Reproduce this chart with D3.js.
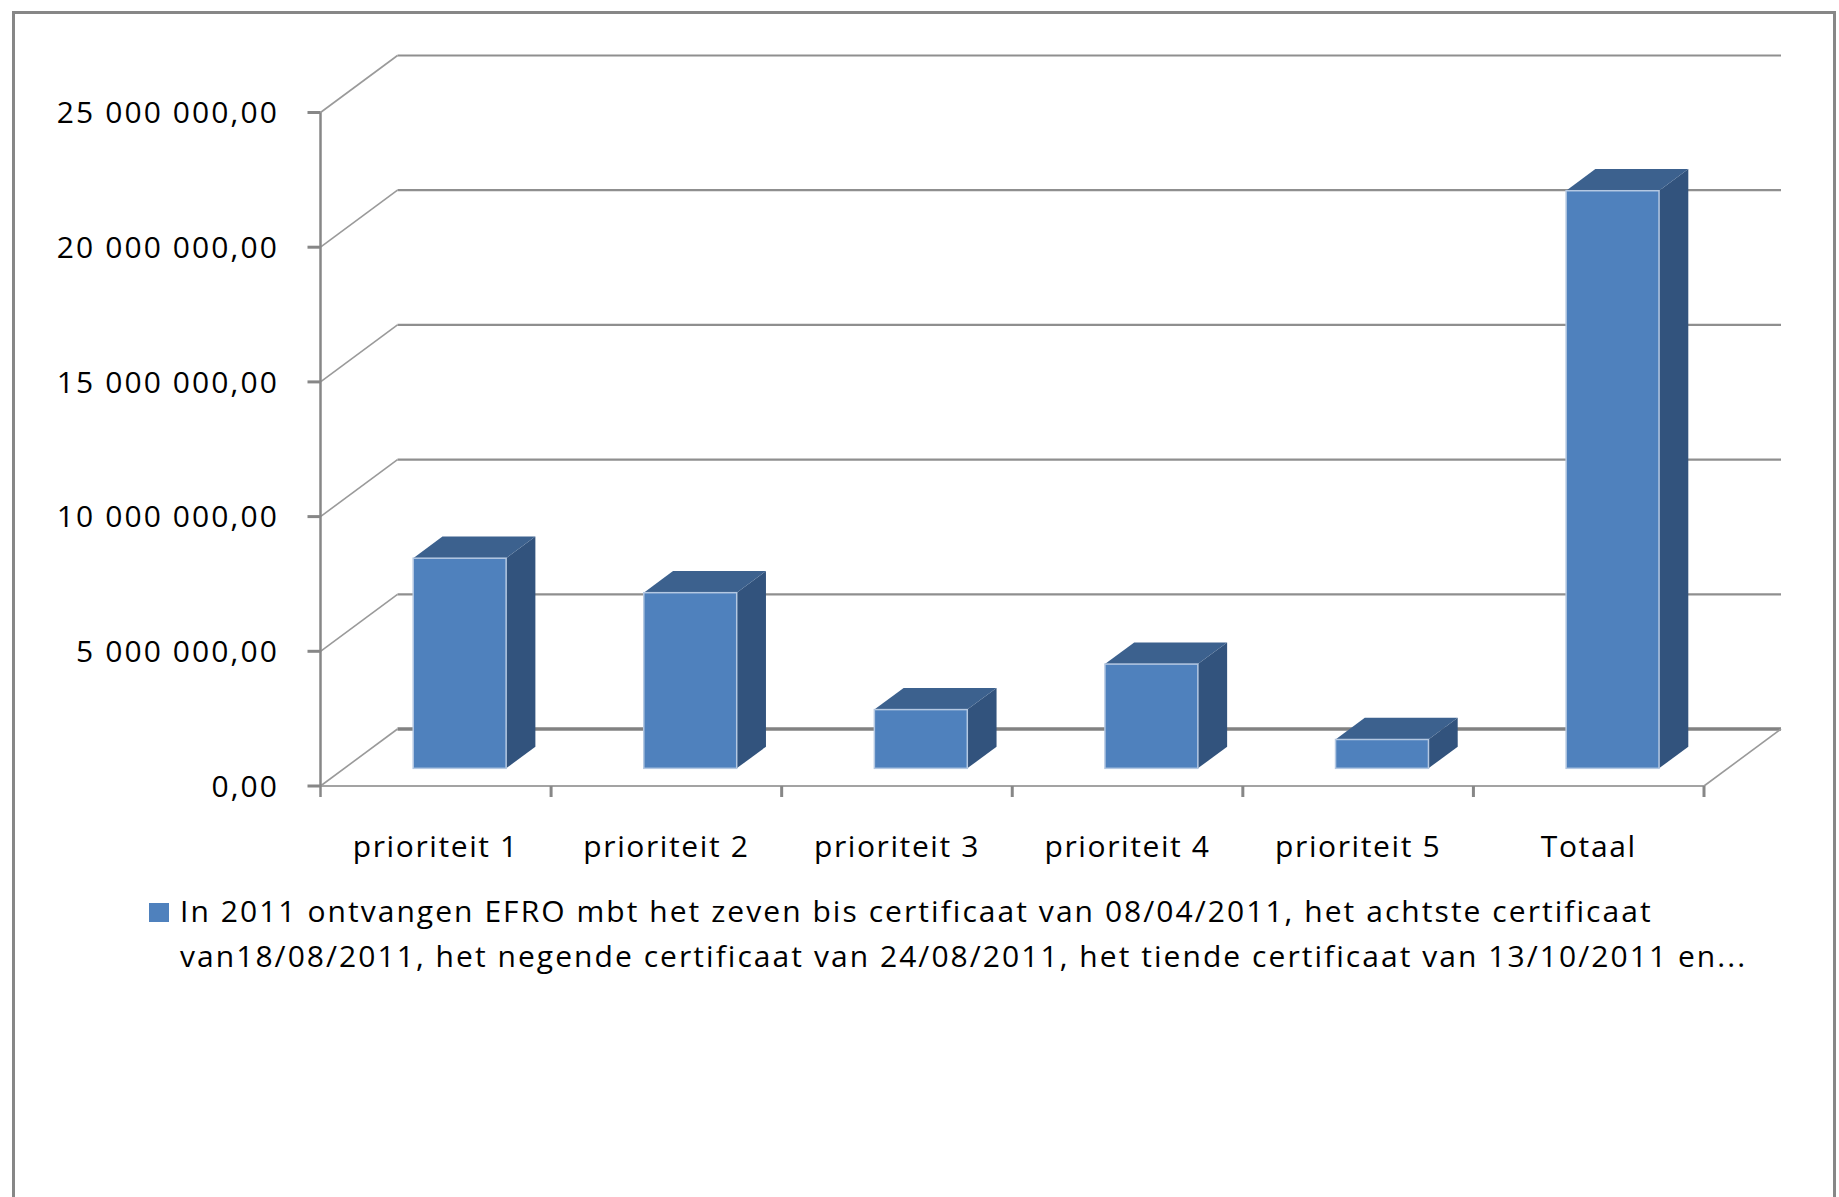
<!DOCTYPE html>
<html>
<head>
<meta charset="utf-8">
<script src="https://cdn.jsdelivr.net/npm/d3@7"></script>
<style>
  html, body { margin: 0; padding: 0; background: #fff; }
  svg { display: block; }
  text { font-family: "Open Sans", sans-serif; fill: #000; }
</style>
</head>
<body>
<script>
// ---- data ----
const categories = ["prioriteit 1", "prioriteit 2", "prioriteit 3", "prioriteit 4", "prioriteit 5", "Totaal"];
const values = [7800000, 6520000, 2180000, 3870000, 1070000, 21440000];
const yTickValues = [0, 5000000, 10000000, 15000000, 20000000, 25000000];
const yTickLabels = ["0,00", "5 000 000,00", "10 000 000,00", "15 000 000,00", "20 000 000,00", "25 000 000,00"];
const legendLines = [
  "In 2011 ontvangen EFRO mbt het zeven bis certificaat van 08/04/2011, het achtste certificaat",
  "van18/08/2011, het negende certificaat van 24/08/2011, het tiende certificaat van 13/10/2011 en..."
];

// ---- layout ----
const W = 1839, H = 1197;
const DX = 77, DY = -57;          // full depth offset of the 3D walls
const d0 = 0.31, d1 = 0.69;       // bar depth range
const barFrac = 0.403;

const svg = d3.select("body").append("svg").attr("width", W).attr("height", H);

// outer chart border
svg.append("rect")
  .attr("x", 13.5).attr("y", 12.5).attr("width", 1821).attr("height", 1200)
  .attr("fill", "#fff").attr("stroke", "#878787").attr("stroke-width", 3);

const x = d3.scaleBand().domain(categories).range([320.5, 1704]).paddingInner(0).paddingOuter(0);
const y = d3.scaleLinear().domain([0, 25000000]).range([786, 112.5]);

const grid = svg.append("g");
// back wall gridlines + left wall diagonals
yTickValues.forEach(v => {
  const yf = y(v), yb = y(v) + DY;
  grid.append("line")
    .attr("x1", x.range()[0] + DX).attr("x2", x.range()[1] + DX)
    .attr("y1", yb).attr("y2", yb)
    .attr("stroke", v === 0 ? "#828282" : "#8f8f8f")
    .attr("stroke-width", v === 0 ? 3.5 : 2.2);
  grid.append("line")
    .attr("x1", x.range()[0]).attr("y1", yf)
    .attr("x2", x.range()[0] + DX).attr("y2", yb)
    .attr("stroke", "#9a9a9a").attr("stroke-width", 1.6);
});

// floor front edge and right edge
grid.append("line")
  .attr("x1", x.range()[0]).attr("x2", x.range()[1])
  .attr("y1", y(0)).attr("y2", y(0))
  .attr("stroke", "#a3a3a3").attr("stroke-width", 2.2);
grid.append("line")
  .attr("x1", x.range()[1]).attr("y1", y(0))
  .attr("x2", x.range()[1] + DX).attr("y2", y(0) + DY)
  .attr("stroke", "#9a9a9a").attr("stroke-width", 1.6);

// y axis line
grid.append("line")
  .attr("x1", x.range()[0]).attr("x2", x.range()[0])
  .attr("y1", y(25000000)).attr("y2", y(0) + 11)
  .attr("stroke", "#878787").attr("stroke-width", 2.5);

// y ticks + labels
const yAxis = svg.append("g");
yTickValues.forEach((v, i) => {
  yAxis.append("line")
    .attr("x1", x.range()[0] - 13).attr("x2", x.range()[0])
    .attr("y1", y(v)).attr("y2", y(v))
    .attr("stroke", "#878787").attr("stroke-width", 3);
  yAxis.append("text")
    .attr("x", 279).attr("y", y(v)).attr("dy", "0.36em")
    .attr("text-anchor", "end")
    .style("font-size", "30px").style("letter-spacing", "2.1px")
    .text(yTickLabels[i]);
});

// category ticks + labels
const xAxis = svg.append("g");
categories.forEach(c => {
  const xe = x(c) + x.bandwidth();
  xAxis.append("line")
    .attr("x1", xe).attr("x2", xe)
    .attr("y1", y(0)).attr("y2", y(0) + 11)
    .attr("stroke", "#878787").attr("stroke-width", 3);
  xAxis.append("text")
    .attr("x", x(c) + x.bandwidth() / 2).attr("y", 857)
    .attr("text-anchor", "middle")
    .style("font-size", "30px").style("letter-spacing", "1.6px")
    .text(c);
});

// 3D bars
const bw = x.bandwidth() * barFrac;
const ddx = (d1 - d0) * DX, ddy = (d1 - d0) * DY;
const bars = svg.append("g");
categories.forEach((c, i) => {
  const v = values[i];
  const x0 = x(c) + (x.bandwidth() - bw) / 2 + d0 * DX;
  const yt = y(v) + d0 * DY;
  const yb = y(0) + d0 * DY;
  const g = bars.append("g");
  // side face
  g.append("polygon")
    .attr("points", [[x0 + bw, yt], [x0 + bw + ddx, yt + ddy], [x0 + bw + ddx, yb + ddy], [x0 + bw, yb]].map(p => p.join(",")).join(" "))
    .attr("fill", "#32537d");
  // top face
  g.append("polygon")
    .attr("points", [[x0, yt], [x0 + bw, yt], [x0 + bw + ddx, yt + ddy], [x0 + ddx, yt + ddy]].map(p => p.join(",")).join(" "))
    .attr("fill", "#3c618e");
  // front face
  g.append("rect")
    .attr("x", x0).attr("y", yt).attr("width", bw).attr("height", yb - yt)
    .attr("fill", "#4f81bd").attr("stroke", "#b4c8e2").attr("stroke-width", 1.5);
});

// legend
const lg = svg.append("g");
lg.append("rect").attr("x", 149).attr("y", 903).attr("width", 20).attr("height", 19).attr("fill", "#4f81bd");
legendLines.forEach((t, i) => {
  lg.append("text")
    .attr("x", 180).attr("y", 922 + i * 45)
    .style("font-size", "30px").style("letter-spacing", "2.05px")
    .text(t);
});
</script>
</body>
</html>
